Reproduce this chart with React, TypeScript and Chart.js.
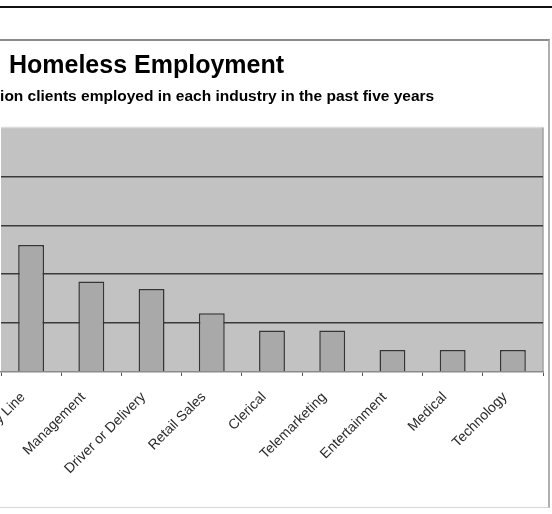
import React, { useEffect, useRef } from "react";
import { Chart, registerables } from "chart.js";

Chart.register(...registerables);

const categories = [
  "Assembly Line",
  "Management",
  "Driver or Delivery",
  "Retail Sales",
  "Clerical",
  "Telemarketing",
  "Entertainment",
  "Medical",
  "Technology",
];
const shares = [52, 37, 34, 24, 17, 17, 9, 9, 9];
const yMax = 100;
const yStep = 20;
const titleText = "Homeless Employment";
const subtitleText =
  "Percentage of Mission clients employed in each industry in the past five years";

const FONT = "'Liberation Sans', Arial, sans-serif";

const plotBg = {
  id: "plotBg",
  beforeDraw(chart: any) {
    const { ctx, chartArea } = chart;
    if (!chartArea) return;
    ctx.save();
    ctx.fillStyle = "#c2c2c2";
    ctx.fillRect(chartArea.left, chartArea.top, chartArea.right - chartArea.left, chartArea.bottom - chartArea.top);
    ctx.strokeStyle = "#dcdcdc";
    ctx.lineWidth = 1.5;
    ctx.beginPath();
    ctx.moveTo(chartArea.left, chartArea.top);
    ctx.lineTo(chartArea.right, chartArea.top);
    ctx.stroke();
    ctx.strokeStyle = "#a0a0a0";
    ctx.beginPath();
    ctx.moveTo(chartArea.right, chartArea.top);
    ctx.lineTo(chartArea.right, chartArea.bottom);
    ctx.stroke();
    ctx.restore();
  },
};

export default function App() {
  const ref = useRef<HTMLCanvasElement>(null);

  useEffect(() => {
    if (!ref.current) return;
    const chart = new Chart(ref.current, {
      type: "bar",
      data: {
        labels: categories,
        datasets: [
          {
            label: "Clients",
            data: shares,
            backgroundColor: "#a9a9a9",
            borderColor: "#353535",
            borderWidth: 1.5,
            categoryPercentage: 1,
            barPercentage: 0.43,
          },
        ],
      },
      options: {
        animation: false,
        responsive: false,
        maintainAspectRatio: false,
        layout: { padding: { left: 10, right: 5, top: 0, bottom: 0 } },
        plugins: {
          legend: { display: false },
          tooltip: { enabled: false },
          title: {
            display: true,
            text: titleText,
            color: "#000",
            font: { family: FONT, size: 25, weight: "bold" },
            padding: { top: 10, bottom: 3 },
          },
          subtitle: {
            display: true,
            text: subtitleText,
            color: "#000",
            font: { family: FONT, size: 15.5, weight: "bold" },
            padding: { top: 3, bottom: 22 },
          },
        },
        scales: {
          x: {
            grid: {
              drawOnChartArea: false,
              drawTicks: true,
              tickLength: 4,
              color: "#555",
            },
            border: { display: true, color: "#8a8a8a", width: 1.5 },
            ticks: {
              maxRotation: 45,
              minRotation: 45,
              color: "#2a2a2a",
              font: { family: FONT, size: 14 },
              padding: 13,
              labelOffset: -8,
            },
            afterFit(scale: any) {
              scale.height = 135;
            },
          },
          y: {
            min: 0,
            max: yMax,
            ticks: {
              stepSize: yStep,
              color: "#000",
              font: { family: FONT, size: 12 },
              callback: (v: any) => v + "%",
            },
            grid: {
              color: (c: any) =>
                c.tick && (c.tick.value === 0 || c.tick.value === yMax) ? "rgba(0,0,0,0)" : "#3a3a3a",
              lineWidth: 1.5,
              drawTicks: false,
            },
            border: { display: false },
            afterFit(scale: any) {
              scale.width = 251;
            },
          },
        },
      },
      plugins: [plotBg],
    });
    return () => chart.destroy();
  }, []);

  return (
    <div
      style={{
        position: "fixed",
        left: 0,
        top: 0,
        width: 552,
        height: 514,
        overflow: "hidden",
        background: "#fff",
      }}
    >
      <div
        style={{
          position: "absolute",
          left: 0,
          top: 6,
          width: 552,
          height: 2,
          background: "#111",
        }}
      />
      <div
        style={{
          position: "absolute",
          left: -260,
          top: 39,
          width: 808,
          height: 466,
          borderTop: "2px solid #8c8c8c",
          borderRight: "2px solid #b0b0b0",
          borderBottom: "1px solid #d8d8d8",
          background: "#fff",
        }}
      >
        <canvas ref={ref} width={808} height={466} style={{ display: "block" }} />
      </div>
    </div>
  );
}
